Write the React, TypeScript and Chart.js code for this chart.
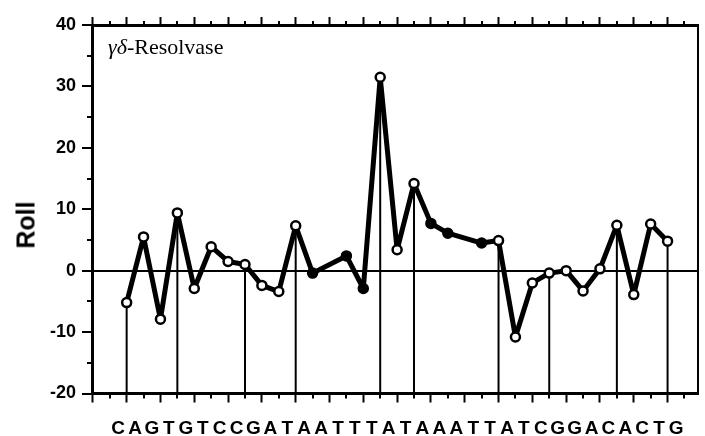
import React, { useEffect, useRef } from "react";
import { Chart, registerables } from "chart.js";

Chart.register(...registerables);

// Base sequence (letters along the bottom axis)
const sequence: string[] = "CAGTGTCCGATAATTTATAAATTATCGGACACTG".split("");

// Roll angle per dinucleotide step (null = no value shown)
const rollValues: (number | null)[] = [
  -5.2, 5.5, -7.9, 9.4, -2.9, 3.9, 1.5, 1.0, -2.4, -3.4,
  7.3, -0.4, null, 2.4, -2.9, 31.5, 3.4, 14.2, 7.7, 6.1,
  null, 4.5, 4.9, -10.8, -2.0, -0.4, 0.0, -3.3, 0.3, 7.4,
  -3.9, 7.6, 4.8,
];

// Steps drawn with filled markers
const filledSteps: number[] = [11, 13, 14, 18, 19, 21];

// Steps with a vertical drop line to the bottom axis
const dropSteps: number[] = [0, 3, 7, 10, 15, 17, 22, 25, 29, 32];

// Axis ranges / ticks
const yMin = -20;
const yMax = 40;
const yStep = 5;
const xMin = -2.05;
const xMax = 33.8;
const xTickValues: number[] = Array.from({ length: 36 }, (_, i) => i - 2);
const letterPositions: number[] = sequence.map((_, j) => j - 0.5);

const FONT = "'Liberation Sans', Arial, Helvetica, sans-serif";
const TRANSPARENT = "rgba(0,0,0,0)";

const shortTicks = {
  id: "shortTicks",
  afterDraw(chart: any) {
    const { ctx, chartArea, scales } = chart;
    ctx.save();
    ctx.strokeStyle = "#000";
    ctx.lineWidth = 2;
    const y = scales.y;
    for (let v = yMin + yStep; v < yMax; v += 2 * yStep) {
      const py = Math.round(y.getPixelForValue(v));
      ctx.beginPath();
      ctx.moveTo(chartArea.left - 5, py);
      ctx.lineTo(chartArea.left, py);
      ctx.stroke();
    }
    const xt = scales.xt;
    xTickValues
      .filter((v) => Math.abs(v) % 2 === 1)
      .forEach((v) => {
        const px = Math.round(xt.getPixelForValue(v));
        ctx.beginPath();
        ctx.moveTo(px, chartArea.top - 4);
        ctx.lineTo(px, chartArea.top);
        ctx.stroke();
        ctx.beginPath();
        ctx.moveTo(px, chartArea.bottom);
        ctx.lineTo(px, chartArea.bottom + 5);
        ctx.stroke();
      });
    ctx.restore();
  },
};

const evenTickColor = (c: any) =>
  c.tick && Math.abs(Math.round(c.tick.value)) % 2 === 0 ? "#000" : TRANSPARENT;

export default function App() {
  const canvasRef = useRef<HTMLCanvasElement | null>(null);

  useEffect(() => {
    document.body.style.margin = "0";
    const canvas = canvasRef.current;
    if (!canvas) return;

    const mainData = rollValues.map((v, i) => ({ x: i, y: v }));
    const dropData: { x: number; y: number | null }[] = [];
    dropSteps.forEach((i) => {
      dropData.push({ x: i, y: rollValues[i] as number });
      dropData.push({ x: i, y: yMin });
      dropData.push({ x: i, y: null });
    });

    const chart = new Chart(canvas, {
      type: "line",
      data: {
        datasets: [
          {
            data: mainData as any,
            borderColor: "#000",
            borderWidth: 5,
            borderJoinStyle: "round",
            tension: 0,
            spanGaps: true,
            pointRadius: 4.5,
            pointBorderWidth: 2.5,
            pointBorderColor: "#000",
            pointBackgroundColor: rollValues.map((_, i) =>
              filledSteps.includes(i) ? "#000" : "#fff"
            ),
            xAxisID: "x",
            yAxisID: "y",
          },
          {
            data: dropData as any,
            borderColor: "#000",
            borderWidth: 2,
            pointRadius: 0,
            spanGaps: false,
            tension: 0,
            xAxisID: "x",
            yAxisID: "y",
          },
        ],
      },
      options: {
        responsive: false,
        animation: false,
        layout: { padding: 0 },
        plugins: {
          legend: { display: false },
          tooltip: { enabled: false },
          title: { display: false },
        },
        scales: {
          x: {
            type: "linear",
            position: "bottom",
            min: xMin,
            max: xMax,
            weight: 0,
            afterBuildTicks: (s: any) => {
              s.ticks = xTickValues.map((v) => ({ value: v }));
            },
            ticks: { display: false },
            grid: {
              drawOnChartArea: false,
              tickLength: 9,
              tickWidth: 2,
              tickColor: evenTickColor,
            },
            border: { color: "#000", width: 3 },
            afterFit: (s: any) => {
              s.height = 12;
            },
          },
          xl: {
            type: "linear",
            position: "bottom",
            min: xMin,
            max: xMax,
            weight: 1,
            afterBuildTicks: (s: any) => {
              s.ticks = letterPositions.map((v) => ({ value: v }));
            },
            ticks: {
              autoSkip: false,
              maxRotation: 0,
              minRotation: 0,
              padding: 12,
              color: "#000",
              font: { family: FONT, size: 19, weight: "bold" },
              callback: (_v: any, i: number) => sequence[i],
            },
            grid: { display: false, drawTicks: false },
            border: { display: false },
            afterFit: (s: any) => {
              s.height = 30.5;
            },
          },
          xt: {
            type: "linear",
            position: "top",
            min: xMin,
            max: xMax,
            afterBuildTicks: (s: any) => {
              s.ticks = xTickValues.map((v) => ({ value: v }));
            },
            ticks: { display: false },
            grid: {
              drawOnChartArea: false,
              tickLength: 8,
              tickWidth: 2,
              tickColor: evenTickColor,
            },
            border: { color: "#000", width: 3 },
            afterFit: (s: any) => {
              s.height = 25;
            },
          },
          y: {
            type: "linear",
            position: "left",
            min: yMin,
            max: yMax,
            ticks: {
              stepSize: yStep,
              padding: 6,
              color: "#000",
              font: { family: FONT, size: 18, weight: "bold" },
              callback: (v: any) => (Number(v) % 10 === 0 ? String(v) : ""),
            },
            grid: {
              color: (c: any) => (c.tick && c.tick.value === 0 ? "#000" : TRANSPARENT),
              lineWidth: 2,
              tickLength: 10,
              tickWidth: 2,
              tickColor: (c: any) =>
                c.tick && c.tick.value % 10 === 0 ? "#000" : TRANSPARENT,
            },
            border: { color: "#000", width: 3 },
            afterFit: (s: any) => {
              s.width = 92;
            },
          },
          yr: {
            type: "linear",
            position: "right",
            min: yMin,
            max: yMax,
            ticks: { display: false },
            grid: { drawOnChartArea: false, drawTicks: false },
            border: { color: "#000", width: 2 },
            afterFit: (s: any) => {
              s.width = 2;
            },
          },
        },
      } as any,
      plugins: [shortTicks],
    });

    return () => chart.destroy();
  }, []);

  return (
    <div style={{ position: "relative", width: 705, height: 436, background: "#fff" }}>
      <canvas ref={canvasRef} width={705} height={436} style={{ display: "block" }} />
      <div
        style={{
          position: "absolute",
          left: 108,
          top: 36,
          fontFamily: "'Liberation Serif', 'Times New Roman', serif",
          fontSize: 22,
          lineHeight: "22px",
          color: "#000",
          whiteSpace: "nowrap",
        }}
      >
        <span style={{ fontStyle: "italic" }}>γδ</span>-Resolvase
      </div>
      <div
        style={{
          position: "absolute",
          left: 26,
          top: 225,
          transform: "translate(-50%, -50%) rotate(-90deg)",
          fontFamily: FONT,
          fontSize: 25,
          fontWeight: "bold",
          lineHeight: "25px",
          color: "#000",
          whiteSpace: "nowrap",
        }}
      >
        Roll
      </div>
    </div>
  );
}
